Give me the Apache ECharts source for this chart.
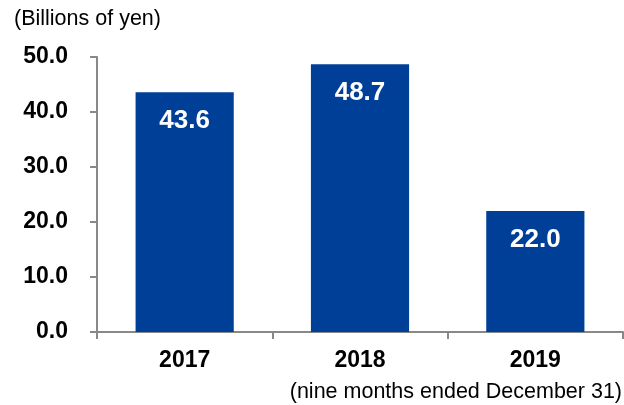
<!DOCTYPE html>
<html>
<head>
<meta charset="utf-8">
<script src="https://cdn.jsdelivr.net/npm/echarts@6/dist/echarts.min.js"></script>
<style>
  html, body { margin: 0; padding: 0; background: #fff; }
  #chart { width: 624px; height: 405px; }
</style>
</head>
<body>
<div id="chart"></div>
<script>
// fiscal years and values (billions of yen)
var years = ['2017', '2018', '2019'];
var amounts = [43.6, 48.7, 22.0];

var chart = echarts.init(document.getElementById('chart'));
chart.setOption({
    animation: false,
    textStyle: {fontFamily: 'Liberation Sans, Arial, sans-serif'},
    grid: {left: 97, right: 1, top: 57, bottom: 73, containLabel: false},
    graphic: [
        {type: 'text', left: 14, top: 8,
         style: {text: '(Billions of yen)', font: '21.5px Liberation Sans', fill: '#000'}},
        {type: 'text', right: 2, top: 381,
         style: {text: '(nine months ended December 31)', font: '21.5px Liberation Sans', fill: '#000'}}
    ],
    xAxis: {
        type: 'category',
        data: years,
        axisLine: {lineStyle: {color: '#888', width: 2}},
        axisTick: {show: true, length: 7, lineStyle: {color: '#888', width: 2}},
        axisLabel: {color: '#000', fontSize: 23, fontWeight: 'bold', margin: 17}
    },
    yAxis: {
        type: 'value',
        min: 0, max: 50, interval: 10,
        splitLine: {show: false},
        axisLine: {show: true, lineStyle: {color: '#888', width: 2}},
        axisTick: {show: true, length: 7, lineStyle: {color: '#888', width: 2}},
        axisLabel: {
            color: '#000', fontSize: 23, fontWeight: 'bold', margin: 29,
            formatter: function (v) { return v.toFixed(1); }
        }
    },
    series: [{
        type: 'bar',
        data: amounts,
        barWidth: '56%',
        itemStyle: {color: '#003F98'},
        label: {
            show: true,
            position: 'insideTop',
            distance: 16,
            color: '#fff',
            fontSize: 26,
            fontWeight: 'bold',
            formatter: function (p) { return p.value.toFixed(1); }
        }
    }]
});
</script>
</body>
</html>
